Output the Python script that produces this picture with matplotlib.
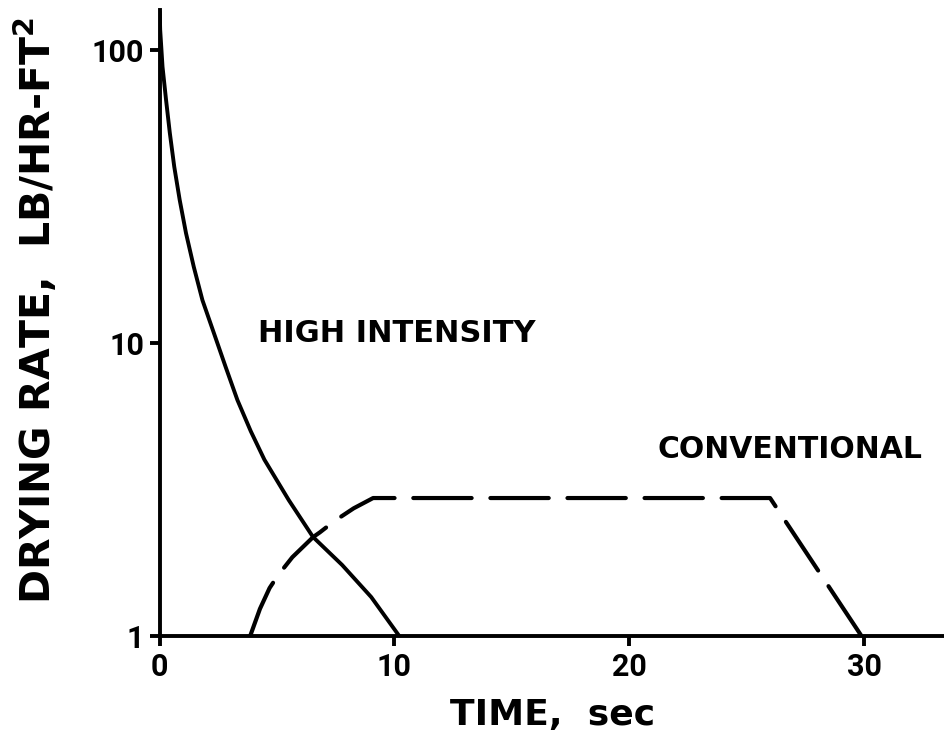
import matplotlib
matplotlib.use("Agg")
import matplotlib.pyplot as plt

plt.rcParams['font.family'] = ['DejaVu Sans']
plt.rcParams['font.weight'] = 'bold'

# high intensity drying rate curve (time in sec, rate in lb/hr-ft^2)
hi_time = [0.0, 0.02, 0.12, 0.27, 0.43, 0.62, 0.85, 1.12, 1.45, 1.82,
           2.31, 2.81, 3.31, 3.88, 4.46, 5.5, 6.53, 7.77, 9.01, 10.21]
hi_rate = [135, 117, 87.5, 67.5, 52.1, 39.9, 30.8, 23.7, 18.2, 14.0,
           10.8, 8.28, 6.39, 5.0, 4.0, 2.91, 2.18, 1.75, 1.36, 1.0]

# conventional drying: rising, constant rate, falling
conv_time = [3.85, 4.27, 4.68, 5.03, 5.65, 6.54, 6.82, 7.44, 8.26, 9.09,
             26.0, 29.9]
conv_rate = [1.0, 1.24, 1.46, 1.61, 1.86, 2.18, 2.26, 2.47, 2.73, 2.96,
             2.96, 1.0]

x_ticks = [0, 10, 20, 30]
y_ticks = [1, 10, 100]
y_tick_labels = ['1', '10', '100']

fig = plt.figure(figsize=(9.45, 7.45), dpi=100)
ax = fig.add_axes([0.169, 0.146, 0.831, 0.841])

ax.plot(hi_time, hi_rate, color='black', lw=2.8, solid_capstyle='round',
        solid_joinstyle='round')
ax.plot(conv_time, conv_rate, color='black', lw=3.0, dashes=(14, 4.5),
        dash_capstyle='round', dash_joinstyle='round')

ax.set_yscale('log')
ax.set_xlim(0, 33.45)
ax.set_ylim(1, 137)
ax.set_xticks(x_ticks)
ax.set_yticks(y_ticks)
ax.set_yticklabels(y_tick_labels)
ax.minorticks_off()

for s in ['top', 'right']:
    ax.spines[s].set_visible(False)
for s in ['left', 'bottom']:
    ax.spines[s].set_linewidth(2.8)

ax.tick_params(axis='both', direction='out', length=7, width=2.8,
               labelsize=22, pad=4, labelfontfamily='Roboto')
for lab in ax.get_xticklabels() + ax.get_yticklabels():
    lab.set_fontweight('bold')

ax.set_xlabel('TIME,  sec', fontsize=26, fontweight='bold', labelpad=12)
ax.set_ylabel(r'DRYING RATE,  LB/HR-FT$^{\mathbf{2}}$', fontsize=29.5,
              fontweight='bold')
ax.yaxis.set_label_coords(-0.127, 0.52)

ax.text(4.2, 10.1, 'HIGH INTENSITY', fontsize=22, fontweight='bold',
        va='baseline', ha='left')
ax.text(21.2, 4.05, 'CONVENTIONAL', fontsize=21.5, fontweight='bold',
        va='baseline', ha='left')

fig.savefig('out.png', dpi=100)
